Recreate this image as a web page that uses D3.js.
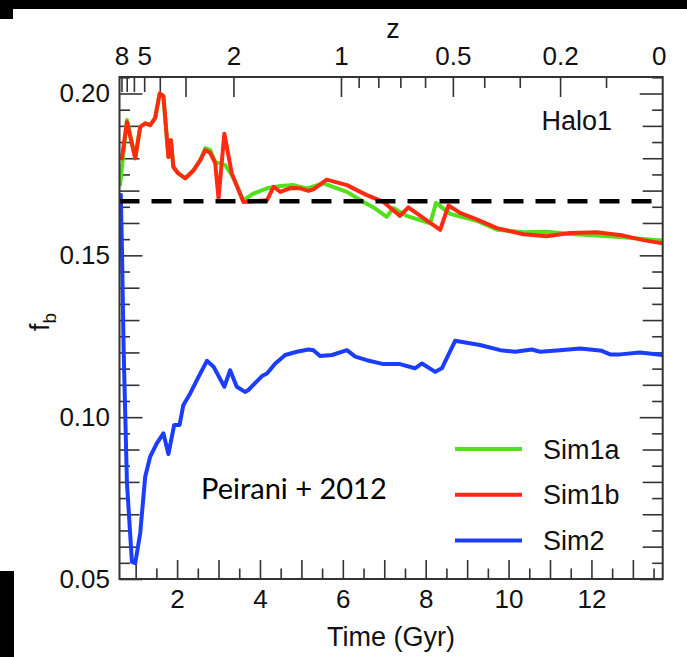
<!DOCTYPE html>
<html>
<head>
<meta charset="utf-8">
<script src="https://cdn.jsdelivr.net/npm/d3@7"></script>
<style>
  body { margin: 0; background: #fff; }
  svg { display: block; }
  .axis path { display: none; }
  .axis line { stroke: #333; stroke-width: 1.6px; }
  .axis text { font-family: "Liberation Sans", Arial, sans-serif; font-size: 26px; fill: #111; }
  .lbl { font-family: "Liberation Sans", Arial, sans-serif; font-size: 27px; fill: #111; }
</style>
</head>
<body>
<div id="graph"></div>
<script>
// Sim1a (green)
var time1a = [0.62,0.79,0.99,1.11,1.23,1.35,1.47,1.58,1.67,1.79,1.85,1.91,2.03,2.20,2.40,2.56,2.68,2.80,2.92,3.16,
              3.35,3.60,3.84,4.17,4.49,4.81,5.13,5.53,6.10,6.50,6.74,7.06,7.22,7.54,8.11,8.25,8.59,9.23,9.72,10.36,
              10.92,11.48,12.13,12.77,13.72];
var fb1a = [0.1714,0.1918,0.1800,0.1897,0.1908,0.1902,0.1924,0.2000,0.1992,0.1804,0.1856,0.1773,0.1753,0.1738,0.1763,0.1794,0.1831,0.1825,0.1789,0.1779,
            0.1742,0.1670,0.1691,0.1707,0.1714,0.1717,0.1707,0.1722,0.1696,0.1665,0.1648,0.1619,0.1646,0.1622,0.1599,0.1662,0.1628,0.1607,0.1579,0.1571,
            0.1573,0.1566,0.1561,0.1556,0.1545];

// Sim1b (red)
var time1b = [0.66,0.79,0.99,1.11,1.23,1.35,1.47,1.58,1.67,1.79,1.85,1.91,2.03,2.20,2.40,2.56,2.68,2.80,2.92,3.00,
              3.14,3.32,3.60,4.17,4.33,4.49,4.73,4.97,5.17,5.29,5.61,6.10,6.42,6.58,6.98,7.38,7.58,8.35,8.55,8.83,
              9.23,9.72,10.36,10.92,11.48,12.13,12.77,13.25,13.72];
var fb1b = [0.1794,0.1912,0.1800,0.1897,0.1908,0.1902,0.1924,0.2000,0.1992,0.1804,0.1856,0.1773,0.1753,0.1738,0.1763,0.1794,0.1825,0.1816,0.1785,0.1676,
            0.1876,0.1753,0.1665,0.1670,0.1712,0.1696,0.1708,0.1707,0.1699,0.1704,0.1734,0.1717,0.1696,0.1686,0.1665,0.1622,0.1648,0.1579,0.1654,0.1631,
            0.1611,0.1584,0.1565,0.1559,0.1569,0.1571,0.1561,0.1547,0.1537];

// Sim2 (blue)
var time2 = [0.64,0.67,0.71,0.79,0.91,0.99,1.11,1.23,1.35,1.51,1.67,1.79,1.93,2.06,2.15,2.32,2.52,2.72,2.88,3.14,
             3.28,3.44,3.64,3.72,4.05,4.17,4.37,4.61,4.89,5.17,5.29,5.45,5.74,6.10,6.30,6.58,6.98,7.38,7.74,7.91,
             8.23,8.39,8.71,8.99,9.31,9.80,10.16,10.56,10.76,11.24,11.73,12.25,12.45,12.69,13.17,13.72];
var fb2 = [0.1692,0.1516,0.1207,0.0796,0.0553,0.0549,0.0642,0.0816,0.0878,0.0919,0.0950,0.0886,0.0976,0.0976,0.1037,0.1074,0.1125,0.1174,0.1156,0.1094,
           0.1145,0.1094,0.1078,0.1084,0.1127,0.1135,0.1166,0.1192,0.1202,0.1209,0.1207,0.1189,0.1192,0.1207,0.1187,0.1176,0.1164,0.1164,0.1151,0.1166,
           0.1140,0.1151,0.1236,0.1230,0.1223,0.1207,0.1202,0.1209,0.1202,0.1207,0.1212,0.1205,0.1194,0.1194,0.1200,0.1192];

var fbCosmic = 0.1667;
var seriesNames = ["Sim1a", "Sim1b", "Sim2"];
var seriesColors = ["#52e01c", "#ff2a12", "#1a3dff"];

var timeMajor = [1,2,3,4,5,6,7,8,9,10,11,12,13];
var timeMinor = [1.5,2.5,3.5,4.5,5.5,6.5,7.5,8.5,9.5,10.5,11.5,12.5,13.5];
var timeLabels = [2,4,6,8,10,12];
var fbLabels = [0.05,0.10,0.15,0.20];
var zLabels = [8,5,2,1,0.5,0.2,0];
var zLong = [4,3,2,1,0.5,0.2];
var zMid = [8,7,6,5];
var zShort = [0.9,0.8,0.7,0.6,0.4,0.3,0.1];

// cosmic time (Gyr) at redshift z, flat LCDM
function zToTime(z) {
  var om = 0.26, ol = 0.74, hub = 977.8 / 72;
  return 2 / (3 * Math.sqrt(ol)) * hub * Math.asinh(Math.sqrt(ol / om) * Math.pow(1 + z, -1.5));
}

var W = 687, H = 657;
var margin = {top: 77, right: 24.3, bottom: 78, left: 119.5},
    width = W - margin.left - margin.right,
    height = H - margin.top - margin.bottom;

var svg = d3.select("#graph").append("svg")
    .attr("width", W)
    .attr("height", H);

// black crop edges from the original screenshot
svg.append("rect").attr("x", 0).attr("y", 0).attr("width", W).attr("height", 9).attr("fill", "#000");
svg.append("rect").attr("x", 0).attr("y", 0).attr("width", 13).attr("height", 19).attr("fill", "#000");
svg.append("rect").attr("x", 0).attr("y", 571).attr("width", 14).attr("height", 86).attr("fill", "#000");

var g = svg.append("g")
    .attr("transform", "translate(" + margin.left + "," + margin.top + ")");

var x = d3.scaleLinear().domain([0.61, 13.72]).range([0, width]);
var y = d3.scaleLinear().domain([0.05, 0.2051]).range([height, 0]);

g.append("clipPath").attr("id", "clip")
  .append("rect").attr("width", width).attr("height", height);

// bottom axis (time)
function bottomTicks(vals, len, labels) {
  g.append("g").attr("class", "axis")
    .attr("transform", "translate(0," + height + ")")
    .call(d3.axisBottom(x).tickValues(vals).tickSizeInner(-len).tickSizeOuter(0).tickPadding(11)
      .tickFormat(function(d) { return labels && labels.indexOf(d) >= 0 ? d : ""; }));
}
bottomTicks(timeMajor, 19, timeLabels);
bottomTicks(timeMinor, 10.5, null);

// left / right axes (fb)
var fbAll = d3.range(0, 32).map(function(i) { return Math.round((0.05 + i * 0.005) * 1000) / 1000; });
function tickLen(d) {
  var k = Math.round(d * 1000);
  if (k % 50 === 0) return 23;
  if (k % 10 === 0) return 20;
  return 10.5;
}
[23, 20, 10.5].forEach(function(len) {
  var vals = fbAll.filter(function(d) { return tickLen(d) === len; });
  g.append("g").attr("class", "axis")
    .call(d3.axisLeft(y).tickValues(vals).tickSizeInner(-len).tickSizeOuter(0).tickPadding(9.5)
      .tickFormat(function(d) { return fbLabels.indexOf(d) >= 0 ? d3.format(".2f")(d) : ""; }));
  g.append("g").attr("class", "axis")
    .attr("transform", "translate(" + width + ",0)")
    .call(d3.axisRight(y).tickValues(vals).tickSizeInner(-len).tickSizeOuter(0).tickFormat(""));
});

// top axis (redshift)
function topTicks(zs, len) {
  g.append("g").attr("class", "axis")
    .call(d3.axisTop(x).tickValues(zs.map(zToTime)).tickSizeInner(-len).tickSizeOuter(0).tickFormat(""));
}
topTicks(zLong, 20);
topTicks(zMid, 15);
topTicks(zShort, 11);
g.append("g").attr("class", "axis")
  .call(d3.axisTop(x).tickValues(zLabels.map(zToTime)).tickSize(0).tickPadding(12)
    .tickFormat(function(d, i) { return zLabels[i]; }));

// curves
var series = [
  {name: seriesNames[0], color: seriesColors[0], t: time1a, v: fb1a},
  {name: seriesNames[1], color: seriesColors[1], t: time1b, v: fb1b},
  {name: seriesNames[2], color: seriesColors[2], t: time2, v: fb2}
];

var line = d3.line()
    .x(function(d) { return x(d[0]); })
    .y(function(d) { return y(d[1]); });

var plot = g.append("g").attr("clip-path", "url(#clip)");
series.forEach(function(s) {
  plot.append("path")
    .datum(d3.zip(s.t, s.v))
    .attr("fill", "none")
    .attr("stroke", s.color)
    .attr("stroke-width", 4)
    .attr("stroke-linejoin", "round")
    .attr("d", line);
});

// cosmic baryon fraction
plot.append("line")
  .attr("x1", 0).attr("x2", width)
  .attr("y1", y(fbCosmic)).attr("y2", y(fbCosmic))
  .attr("stroke", "#000")
  .attr("stroke-width", 4.5)
  .attr("stroke-dasharray", "20,12");

// frame
g.append("rect")
  .attr("width", width).attr("height", height)
  .attr("fill", "none").attr("stroke", "#333").attr("stroke-width", 2);

// legend
var legend = g.append("g").attr("transform", "translate(" + (455 - margin.left) + "," + (449 - margin.top) + ")");
series.forEach(function(s, i) {
  var row = legend.append("g").attr("transform", "translate(0," + (i * 45.8) + ")");
  row.append("line").attr("x1", 0).attr("x2", 67).attr("stroke", s.color).attr("stroke-width", 4);
  row.append("text").attr("class", "lbl").attr("x", 88).attr("y", 9.5).text(s.name);
});

// titles
svg.append("text").attr("class", "lbl").attr("x", 393).attr("y", 38).attr("text-anchor", "middle").text("z");
svg.append("text").attr("class", "lbl").attr("x", 391).attr("y", 646).attr("text-anchor", "middle").text("Time (Gyr)");
var yl = svg.append("text").attr("class", "lbl")
  .attr("transform", "translate(49,322) rotate(-90)")
  .attr("text-anchor", "middle");
yl.append("tspan").text("f");
yl.append("tspan").attr("dy", 7).attr("font-size", 19).text("b");

svg.append("text").attr("class", "lbl").attr("x", 541.5).attr("y", 130).text("Halo1");
svg.append("text")
  .attr("x", 201).attr("y", 499)
  .attr("font-family", "Lato, 'Open Sans', sans-serif")
  .attr("font-size", 29)
  .attr("fill", "#000")
  .text("Peirani + 2012");
</script>
</body>
</html>
